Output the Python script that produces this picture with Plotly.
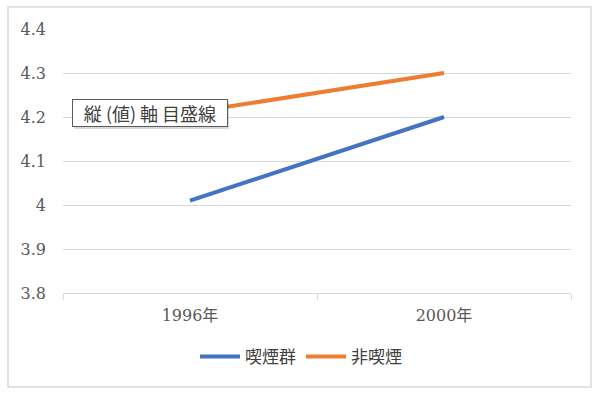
import plotly.graph_objects as go

categories = ["1996年", "2000年"]
smoker = [4.01, 4.2]
nonsmoker = [4.21, 4.3]
series_names = ["喫煙群", "非喫煙"]
y_ticks = [3.8, 3.9, 4.0, 4.1, 4.2, 4.3, 4.4]
y_tick_text = ["3.8", "3.9", "4", "4.1", "4.2", "4.3", "4.4"]
tooltip_text = "縦 (値) 軸 目盛線"

W, H = 598, 393
L, R, T, B = 63, 27, 29, 100
pw, ph = W - L - R, H - T - B

def px_x(p):
    return (p - L) / pw

def px_y(p):
    return (H - B - p) / ph

serif = "'DejaVu Serif', 'Liberation Serif', 'Noto Sans CJK JP', serif"
sans = "'Noto Sans CJK JP', sans-serif"

fig = go.Figure()
fig.add_trace(go.Scatter(x=categories, y=smoker, mode="lines", name=series_names[0],
                         line=dict(color="#4472C4", width=4)))
fig.add_trace(go.Scatter(x=categories, y=nonsmoker, mode="lines", name=series_names[1],
                         line=dict(color="#ED7D31", width=4)))

fig.update_layout(
    width=W, height=H,
    margin=dict(l=L, r=R, t=T, b=B),
    paper_bgcolor="white", plot_bgcolor="white",
    showlegend=True,
    legend=dict(orientation="h", x=px_x(301), xanchor="center", y=px_y(357), yanchor="middle",
                font=dict(family=sans, size=17, color="#404040"), itemwidth=40,
                bgcolor="rgba(0,0,0,0)"),
    xaxis=dict(type="category", range=[-0.5, 1.5], showgrid=False, zeroline=False,
               showline=True, linecolor="#d9d9d9", linewidth=1,
               ticks="outside", tickson="boundaries", ticklen=6, tickcolor="#d9d9d9",
               tickfont=dict(family=serif, size=16, color="#595959"), ticklabelstandoff=8),
    yaxis=dict(range=[3.8, 4.4], tickvals=y_ticks, ticktext=y_tick_text,
               showgrid=True, gridcolor="#d9d9d9", gridwidth=1, zeroline=False,
               showline=False, ticks="",
               tickfont=dict(family=serif, size=16, color="#595959"), ticklabelstandoff=16),
)

# chart border
fig.add_shape(type="rect", xref="paper", yref="paper",
              x0=px_x(8), x1=px_x(591), y0=px_y(387), y1=px_y(7),
              line=dict(color="#d9d9d9", width=1.5), fillcolor="rgba(0,0,0,0)", layer="below")

# tooltip shadow
fig.add_shape(type="rect", xref="paper", yref="paper",
              x0=px_x(74), x1=px_x(229), y0=px_y(129), y1=px_y(101),
              line=dict(width=0), fillcolor="rgba(0,0,0,0.15)", layer="above")

fig.add_annotation(text=tooltip_text, xref="paper", yref="paper",
                   x=px_x(149.5), y=px_y(113), xanchor="center", yanchor="middle",
                   showarrow=False, font=dict(family=sans, size=18, color="#404040"),
                   bgcolor="white", bordercolor="#595959", borderwidth=1, borderpad=2,
                   width=150, height=22)

fig.write_html("out.html")
